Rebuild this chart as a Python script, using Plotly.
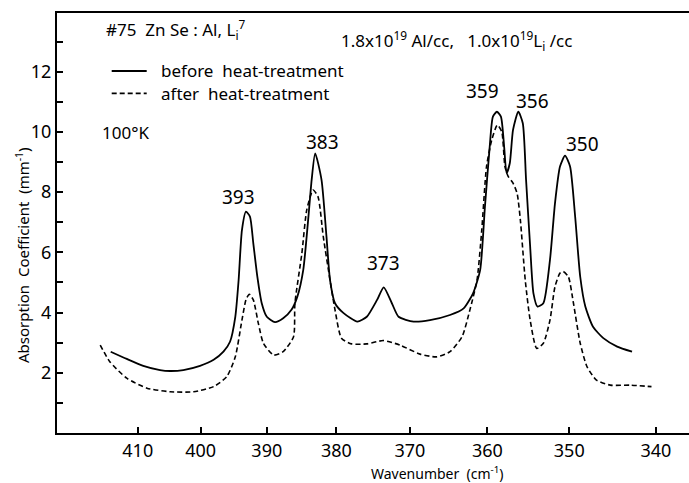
import plotly.graph_objects as go

# ---- data (wavenumber in cm^-1, absorption coefficient in mm^-1) ----
wn_before = [414.45, 411.8, 409.1, 406.4, 404.8, 402.7, 400.1, 398.0, 396.5, 395.5,
             394.7, 394.2, 393.7, 393.1, 392.5, 392.0, 391.4, 390.75, 390.0, 388.8,
             387.6, 386.4, 385.55, 384.7, 384.0, 383.5, 383.0, 382.1, 381.4, 380.9,
             380.2, 379.0, 377.1, 375.8, 374.4, 373.5, 372.4, 371.5, 369.5, 367.35,
             364.75, 363.0, 361.8, 360.9, 360.3, 359.7, 359.3, 358.8, 358.3, 357.9,
             357.6, 357.2, 356.8, 356.15, 355.6, 355.2, 354.7, 354.3, 353.8, 353.1,
             352.3, 351.7, 351.1, 350.5, 349.9, 349.3, 348.7, 348.1, 347.2, 346.0,
             344.4, 342.7]
abs_before = [2.70, 2.46, 2.23, 2.09, 2.06, 2.09, 2.23, 2.43, 2.70, 3.03,
              3.86, 5.08, 6.74, 7.35, 7.19, 6.30, 5.19, 4.31, 3.86, 3.68,
              3.81, 4.09, 4.53, 5.42, 7.08, 8.41, 9.29, 8.41, 6.52, 5.08,
              4.31, 3.98, 3.70, 3.86, 4.42, 4.84, 4.31, 3.86, 3.70, 3.75,
              3.92, 4.14, 4.64, 5.42, 7.52, 9.51, 10.51, 10.67, 10.51, 9.51,
              8.63, 8.96, 10.07, 10.67, 10.29, 8.41, 6.19, 4.64, 4.20, 4.31,
              5.75, 7.63, 8.85, 9.21, 8.85, 7.19, 5.19, 4.20, 3.53, 3.15,
              2.87, 2.70]

wn_after = [416.2, 414.6, 411.8, 408.5, 404.8, 401.1, 398.0, 396.0, 394.7, 393.7,
            393.1, 392.6, 392.0, 391.25, 390.5, 389.0, 387.6, 386.1, 385.9, 384.9,
            384.2, 383.3, 382.6, 381.85, 380.9, 380.2, 379.3, 377.9, 375.8, 373.55,
            371.3, 368.65, 366.5, 364.75, 363.2, 362.2, 361.3, 360.7, 360.1, 359.45,
            358.75, 358.2, 357.8, 357.4, 356.8, 356.3, 355.9, 355.3, 354.7, 353.9,
            353.1, 352.3, 351.7, 351.1, 350.7, 350.1, 349.5, 348.7, 347.9, 346.8,
            345.2, 342.9, 340.5]
abs_after = [2.92, 2.37, 1.82, 1.49, 1.37, 1.37, 1.54, 1.87, 2.53, 3.75,
             4.42, 4.61, 4.42, 3.64, 2.98, 2.59, 2.70, 3.20, 4.31, 5.97,
             7.41, 8.07, 7.85, 6.52, 5.08, 4.09, 3.15, 2.96, 2.96, 3.07,
             2.92, 2.62, 2.53, 2.70, 3.20, 4.09, 5.08, 6.74, 8.85, 9.73,
             10.23, 10.01, 8.85, 8.52, 8.30, 7.96, 7.08, 5.08, 3.75, 2.81,
             2.98, 3.75, 4.86, 5.31, 5.36, 5.19, 4.31, 2.98, 2.20, 1.76,
             1.59, 1.59, 1.54]

x_tick_wn = [410, 400, 390, 380, 370, 360, 350, 340]
y_tick_vals = [2, 4, 6, 8, 10, 12]
series_names = ["before  heat-treatment", "after  heat-treatment"]
peak_labels = ["393", "383", "373", "359", "356", "350"]

# ---- layout geometry (pixels) ----
W, H = 689, 483
ML, MR, MT, MB = 57, 0, 13, 50
PW, PH = W - ML - MR, H - MT - MB


def xp(px):
    return (px - ML) / PW


def yp(py):
    return (H - MB - py) / PH


# axis is linear in wavelength (1/wavenumber)
def inv(w):
    return 1e4 / w


FONT = "Noto Sans"
DASH = "5px,3px"

fig = go.Figure()
fig.add_trace(go.Scatter(
    x=[inv(w) for w in wn_before], y=abs_before, mode="lines",
    name=series_names[0], line=dict(color="black", width=1.8, shape="spline", smoothing=0.6)))
fig.add_trace(go.Scatter(
    x=[inv(w) for w in wn_after], y=abs_after, mode="lines",
    name=series_names[1], line=dict(color="black", width=1.6, dash=DASH, shape="spline", smoothing=0.6)))

peak_pos = [(238, 197), (322, 142), (383, 263), (482, 91), (532, 101), (582, 144)]
ann = []
for lab, (px, py) in zip(peak_labels, peak_pos):
    ann.append(dict(x=xp(px), y=yp(py), xref="paper", yref="paper", text=lab,
                    showarrow=False, xanchor="center", yanchor="middle",
                    font=dict(size=19, color="black", family=FONT)))

# manual legend
legend_rows = [(71, None), (93.3, DASH)]
shapes = []
for name, (py, dash) in zip(series_names, legend_rows):
    shapes.append(dict(type="line", xref="paper", yref="paper",
                       x0=xp(111.7), x1=xp(146.7), y0=yp(py), y1=yp(py),
                       line=dict(color="black", width=1.8, dash=dash)))
    ann.append(dict(x=xp(159), y=yp(py), xref="paper", yref="paper", text=name,
                    showarrow=False, xanchor="left", yanchor="middle",
                    font=dict(size=17, color="black", family=FONT)))

ann += [
    dict(x=xp(104), y=yp(30), xref="paper", yref="paper",
         text="#75  Zn Se : Al, L<sub>i</sub><sup>7</sup>", showarrow=False,
         xanchor="left", yanchor="middle", font=dict(size=17, color="black", family=FONT)),
    dict(x=xp(339), y=yp(40), xref="paper", yref="paper",
         text="1.8x10<sup>19</sup> Al/cc,   1.0x10<sup>19</sup>L<sub>i</sub> /cc", showarrow=False,
         xanchor="left", yanchor="middle", font=dict(size=17, color="black", family=FONT)),
    dict(x=xp(100), y=yp(132), xref="paper", yref="paper",
         text="100°K", showarrow=False,
         xanchor="left", yanchor="middle", font=dict(size=17, color="black", family=FONT)),
    dict(x=xp(437), y=yp(473), xref="paper", yref="paper",
         text="Wavenumber  (cm<sup>-1</sup>)", showarrow=False,
         xanchor="center", yanchor="middle", font=dict(size=14, color="black", family=FONT)),
    dict(x=xp(23), y=yp(255), xref="paper", yref="paper",
         text="Absorption  Coefficient  (mm<sup>-1</sup>)", showarrow=False, textangle=-90,
         xanchor="center", yanchor="middle", font=dict(size=15, color="black", family=FONT)),
]

fig.update_layout(
    width=W, height=H,
    margin=dict(l=ML, r=MR, t=MT, b=MB),
    paper_bgcolor="white", plot_bgcolor="white",
    font=dict(family=FONT, color="black"),
    showlegend=False,
    annotations=ann,
    shapes=shapes,
)

fig.update_xaxes(
    range=[23.608, 29.732],
    tickmode="array", tickvals=[inv(t) for t in x_tick_wn], ticktext=[str(t) for t in x_tick_wn],
    ticks="inside", ticklen=6, tickwidth=1.5, tickcolor="black",
    showline=True, linecolor="black", linewidth=2, mirror=True,
    showgrid=False, zeroline=False,
    tickfont=dict(size=18, color="black", family=FONT),
)
fig.update_yaxes(
    range=[0, 13.95],
    tickmode="array", tickvals=y_tick_vals, ticktext=[str(v) for v in y_tick_vals],
    ticks="inside", ticklen=6, tickwidth=1.5, tickcolor="black",
    minor=dict(dtick=1, tick0=0, ticks="inside", ticklen=6, tickwidth=1.5, tickcolor="black", showgrid=False),
    showline=True, linecolor="black", linewidth=2, mirror=False,
    showgrid=False, zeroline=False,
    tickfont=dict(size=18, color="black", family=FONT),
)

fig.write_html("out.html")
